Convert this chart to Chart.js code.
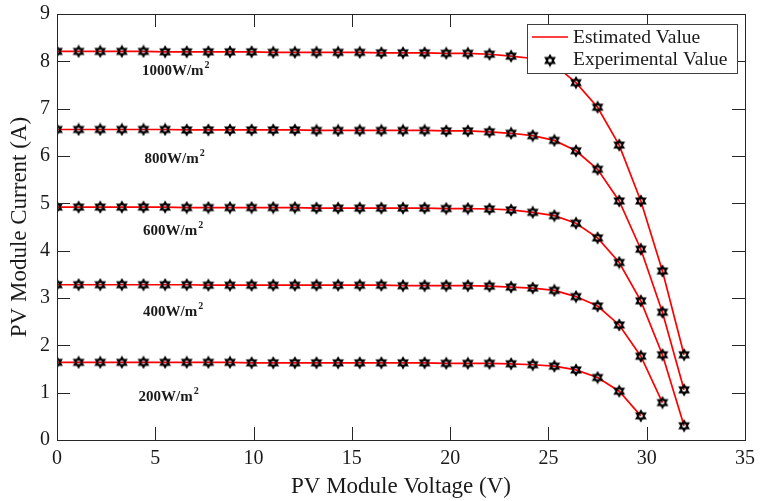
<!DOCTYPE html>
<html>
<head>
<meta charset="utf-8">
<title>PV module I-V curves</title>
<script src="https://cdn.jsdelivr.net/npm/chart.js@4.4.1/dist/chart.umd.min.js"></script>
<style>
    html, body { margin: 0; padding: 0; background: #fff; }
    #wrap { width: 760px; height: 501px; }
</style>
</head>
<body>
<div id="wrap"><canvas id="ivChart" width="760" height="501"></canvas></div>
<script>
// Data
const voltage = [0, 1.1, 2.2, 3.3, 4.4, 5.5, 6.6, 7.7, 8.8, 9.9, 11, 12.1, 13.2, 14.3, 15.4,
    16.5, 17.6, 18.7, 19.8, 20.9, 22, 23.1, 24.2, 25.3, 26.4, 27.5, 28.6, 29.7, 30.8, 31.9];

const current1000 = [8.21, 8.21, 8.21, 8.21, 8.21, 8.20, 8.20, 8.20, 8.20, 8.20, 8.19, 8.19, 8.19, 8.19, 8.19,
    8.18, 8.18, 8.18, 8.17, 8.17, 8.15, 8.11, 8.06, 7.93, 7.55, 7.03, 6.23, 5.05, 3.57, 1.80];
const current800 = [6.56, 6.56, 6.56, 6.56, 6.56, 6.56, 6.55, 6.55, 6.55, 6.55, 6.55, 6.55, 6.54, 6.54, 6.54,
    6.54, 6.54, 6.54, 6.53, 6.53, 6.51, 6.48, 6.43, 6.33, 6.11, 5.72, 5.05, 4.03, 2.70, 1.06];
const current600 = [4.92, 4.92, 4.92, 4.92, 4.92, 4.92, 4.91, 4.91, 4.91, 4.91, 4.91, 4.91, 4.90, 4.90, 4.90,
    4.90, 4.90, 4.90, 4.89, 4.89, 4.88, 4.86, 4.81, 4.74, 4.58, 4.27, 3.75, 2.94, 1.80, 0.30];
const current400 = [3.28, 3.28, 3.28, 3.28, 3.28, 3.28, 3.28, 3.27, 3.27, 3.27, 3.27, 3.27, 3.27, 3.27, 3.27,
    3.27, 3.26, 3.26, 3.26, 3.26, 3.25, 3.23, 3.21, 3.16, 3.03, 2.83, 2.43, 1.77, 0.79];
const current200 = [1.64, 1.64, 1.64, 1.64, 1.64, 1.64, 1.64, 1.64, 1.64, 1.63, 1.63, 1.63, 1.63, 1.63, 1.63,
    1.63, 1.63, 1.63, 1.62, 1.62, 1.62, 1.61, 1.59, 1.56, 1.48, 1.32, 1.03, 0.51];

const irradiance = ["1000", "800", "600", "400", "200"];
const curves = [current1000, current800, current600, current400, current200];
const seriesNames = ["Estimated Value", "Experimental Value"];

const xTicks = [0, 5, 10, 15, 20, 25, 30, 35];
const yTicks = [0, 1, 2, 3, 4, 5, 6, 7, 8, 9];

// where the irradiance labels sit (volts, amps of the text baseline start)
const labelSpots = [[4.32, 7.71], [4.45, 5.86], [4.38, 4.33], [4.38, 2.62], [4.15, 0.83]];

const SERIF = "'Liberation Serif', 'DejaVu Serif', serif";
const INK = "#1a1a1a";

// hexagram marker, hollow so the red line shows through
function makeHexagram(R) {
    const c = document.createElement("canvas");
    const size = Math.ceil(R * 2 + 4);
    c.width = size;
    c.height = size;
    const g = c.getContext("2d");
    const cx = size / 2, cy = size / 2;
    const r = R / Math.sqrt(3);
    g.beginPath();
    for (let k = 0; k < 12; k++) {
        const ang = (-90 + k * 30) * Math.PI / 180;
        const rad = k % 2 === 0 ? R : r;
        const px = cx + rad * Math.cos(ang);
        const py = cy + rad * Math.sin(ang);
        if (k === 0) g.moveTo(px, py); else g.lineTo(px, py);
    }
    g.closePath();
    g.lineWidth = 2.2;
    g.strokeStyle = "#000";
    g.lineJoin = "miter";
    g.stroke();
    return c;
}
const hexMarker = makeHexagram(4.6);

function toPoints(ys) {
    return ys.map((y, i) => ({ x: voltage[i], y: y }));
}

const datasets = [];
curves.forEach((ys, i) => {
    datasets.push({
        label: seriesNames[0] + " " + irradiance[i],
        data: toPoints(ys),
        showLine: true,
        borderColor: "#ff0000",
        borderWidth: 1.7,
        pointRadius: 0,
        tension: 0,
        order: 2
    });
    datasets.push({
        label: seriesNames[1] + " " + irradiance[i],
        data: toPoints(ys),
        showLine: false,
        pointStyle: hexMarker,
        pointRadius: 6,
        order: 1
    });
});

// box, inward ticks on all four sides, curve labels, legend
const decorations = {
    id: "decorations",
    afterDatasetsDraw(chart) {
        const ctx = chart.ctx;
        const a = chart.chartArea;
        const xs = chart.scales.x, ys = chart.scales.y;
        const tick = 13;
        ctx.save();
        ctx.strokeStyle = "#262626";
        ctx.lineWidth = 1;
        ctx.strokeRect(Math.round(a.left) + 0.5, Math.round(a.top) + 0.5,
            Math.round(a.right - a.left), Math.round(a.bottom - a.top));
        ctx.beginPath();
        xTicks.forEach(v => {
            const px = Math.round(xs.getPixelForValue(v)) + 0.5;
            ctx.moveTo(px, a.bottom); ctx.lineTo(px, a.bottom - tick);
            ctx.moveTo(px, a.top); ctx.lineTo(px, a.top + tick);
        });
        yTicks.forEach(v => {
            const py = Math.round(ys.getPixelForValue(v)) + 0.5;
            ctx.moveTo(a.left, py); ctx.lineTo(a.left + tick, py);
            ctx.moveTo(a.right, py); ctx.lineTo(a.right - tick, py);
        });
        ctx.stroke();

        // irradiance labels
        ctx.fillStyle = INK;
        ctx.textBaseline = "alphabetic";
        ctx.textAlign = "left";
        irradiance.forEach((txt, i) => {
            const px = xs.getPixelForValue(labelSpots[i][0]);
            const py = ys.getPixelForValue(labelSpots[i][1]);
            ctx.font = "bold 15px " + SERIF;
            const main = txt + "W/m";
            ctx.fillText(main, px, py);
            const w = ctx.measureText(main).width;
            ctx.font = "bold 10px " + SERIF;
            ctx.fillText("2", px + w + 1, py - 7);
        });

        // legend box
        const lx = 527, ly = 24, lw = 210, lh = 49;
        ctx.fillStyle = "#fff";
        ctx.fillRect(lx, ly, lw, lh);
        ctx.strokeStyle = "#404040";
        ctx.strokeRect(lx + 0.5, ly + 0.5, lw, lh);
        ctx.strokeStyle = "#ff0000";
        ctx.lineWidth = 1.7;
        ctx.beginPath();
        ctx.moveTo(532, 37);
        ctx.lineTo(568, 37);
        ctx.stroke();
        ctx.drawImage(hexMarker, 550 - hexMarker.width / 2, 60.5 - hexMarker.height / 2);
        ctx.fillStyle = INK;
        ctx.font = "19.5px " + SERIF;
        ctx.fillText(seriesNames[0], 573, 43);
        ctx.fillText(seriesNames[1], 573, 65);
        ctx.restore();
    }
};

const ctx = document.getElementById("ivChart").getContext("2d");

new Chart(ctx, {
    type: "scatter",
    data: { datasets: datasets },
    options: {
        responsive: false,
        animation: false,
        events: [],
        layout: { padding: { top: 14, right: 15, left: 0, bottom: 0 } },
        plugins: {
            legend: { display: false },
            tooltip: { enabled: false }
        },
        scales: {
            x: {
                type: "linear",
                min: 0,
                max: 35,
                afterFit: s => { s.height = 61; s.paddingLeft = 0; s.paddingRight = 0; },
                afterBuildTicks: s => { s.ticks = xTicks.map(v => ({ value: v })); },
                grid: { display: false, drawTicks: false },
                border: { display: false },
                ticks: {
                    padding: 7,
                    color: INK,
                    font: { family: SERIF, size: 20 }
                },
                title: {
                    display: true,
                    text: "PV Module Voltage (V)",
                    color: INK,
                    font: { family: SERIF, size: 23 },
                    padding: { top: 0, bottom: 0 }
                }
            },
            y: {
                type: "linear",
                min: 0,
                max: 9,
                afterFit: s => { s.width = 57; s.paddingTop = 0; s.paddingBottom = 0; },
                afterBuildTicks: s => { s.ticks = yTicks.map(v => ({ value: v })); },
                grid: { display: false, drawTicks: false },
                border: { display: false },
                ticks: {
                    padding: 7,
                    color: INK,
                    font: { family: SERIF, size: 20 }
                },
                title: {
                    display: true,
                    text: "PV Module Current (A)",
                    color: INK,
                    font: { family: SERIF, size: 23 },
                    padding: { top: 6, bottom: 0 }
                }
            }
        }
    },
    plugins: [decorations]
});
</script>
</body>
</html>
